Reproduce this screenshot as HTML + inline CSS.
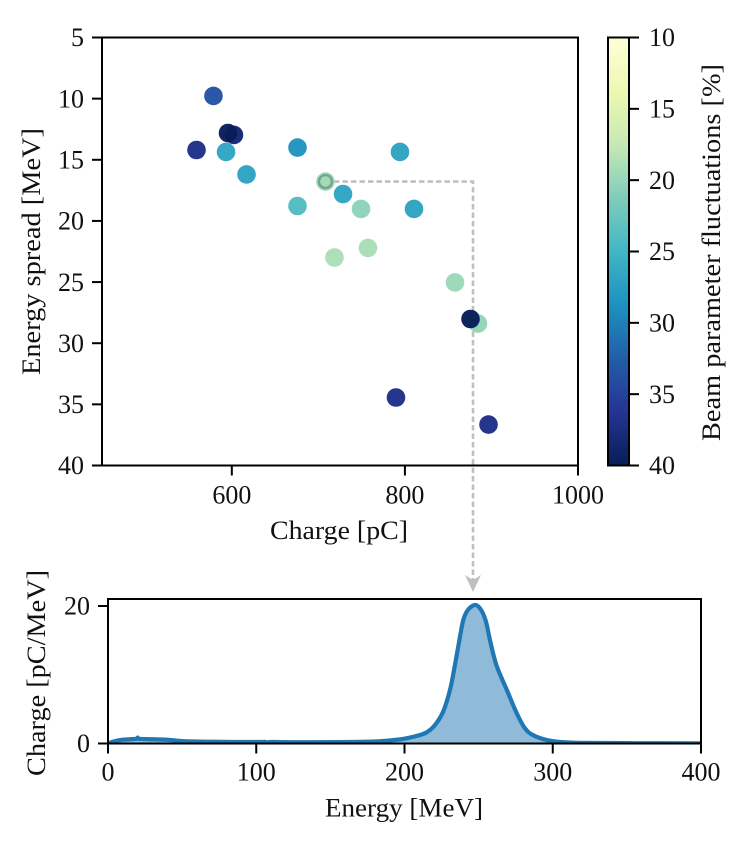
<!DOCTYPE html>
<html>
<head>
<meta charset="utf-8">
<title>Charge vs energy spread</title>
<style>
html,body{margin:0;padding:0;background:#fff;}
svg{display:block;}
text{font-family:"Liberation Serif",serif;font-size:26px;fill:#111;}
</style>
</head>
<body>
<svg id="chart" xmlns="http://www.w3.org/2000/svg" width="747" height="851" viewBox="0 0 747 851">
<defs>
<linearGradient id="ylgnbu" x1="0" y1="0" x2="0" y2="1">
<stop offset="0" stop-color="#ffffd9"/><stop offset="0.125" stop-color="#edf8b1"/><stop offset="0.25" stop-color="#c7e9b4"/><stop offset="0.375" stop-color="#7fcdbb"/><stop offset="0.5" stop-color="#41b6c4"/><stop offset="0.625" stop-color="#1d91c0"/><stop offset="0.75" stop-color="#225ea8"/><stop offset="0.875" stop-color="#253494"/><stop offset="1" stop-color="#081d58"/>
</linearGradient>
<clipPath id="spectrum-clip"><rect x="108" y="599" width="593" height="144.5"/></clipPath>
</defs>
<rect width="747" height="851" fill="#fff"/>
<g id="guide"></g>
<g id="scatter-points"></g>
<g id="spectrum" clip-path="url(#spectrum-clip)"></g>
<rect x="608" y="37.5" width="21" height="428" fill="url(#ylgnbu)"/>
<g id="ticks"></g>
<rect x="102" y="37.5" width="476" height="428" fill="none" stroke="#000" stroke-width="2"/>
<rect x="608" y="37.5" width="21" height="428" fill="none" stroke="#000" stroke-width="2"/>
<rect x="108" y="599" width="593" height="144.5" fill="none" stroke="#000" stroke-width="2"/>
<text x="270" y="539" textLength="138" lengthAdjust="spacingAndGlyphs">Charge [pC]</text>
<text transform="translate(40,375) rotate(-90)" textLength="247" lengthAdjust="spacingAndGlyphs">Energy spread [MeV]</text>
<text transform="translate(720,441) rotate(-90)" textLength="377" lengthAdjust="spacingAndGlyphs">Beam parameter fluctuations [%]</text>
<text x="325" y="816.7" textLength="158" lengthAdjust="spacingAndGlyphs">Energy [MeV]</text>
<text transform="translate(45,776) rotate(-90)" textLength="206" lengthAdjust="spacingAndGlyphs">Charge [pC/MeV]</text>
</svg>
<script>
const charge = [578.8,602.5,595.6,559.2,593.3,617,675.9,675.9,728.5,749.3,794.3,810.5,718.6,757.3,857.9,884.4,875.8,789.7,896.6];
const energySpread = [9.78,12.97,12.81,14.2,14.36,16.2,14,18.78,17.8,19.02,14.36,19.02,22.99,22.21,25.03,28.39,28.02,34.44,36.65];
const fluctuations = [33.5,38.5,40,37,26.8,27,28.5,24,26.8,20.5,27,27,19,19.1,19.8,20.2,40,37,37];
const selectedCharge = 708.2;
const selectedSpread = 16.78;
const selectedFluctuation = 19.5;
const spectrumEnergy = [0,4,10,19,20,21,30,40,50,70,100,106,108,110,130,150,180,197,208,215,220.6,226,230.7,234,237.4,239.7,243,248,252,255,257.7,262,269,275.7,281.3,286.9,296,305,318,350,400];
const spectrumCharge = [0,0.3,0.55,0.68,0.85,0.68,0.62,0.55,0.35,0.25,0.22,0.24,0.08,0.22,0.18,0.2,0.3,0.6,1.09,1.63,2.7,4.6,7.8,11.4,15.5,18,19.5,20.15,19.3,17.7,15,11.4,7.8,4.4,2.2,1.2,0.5,0.22,0.1,0.05,0.03];
const scatterXTicks = [600,800,1000];
const scatterYTicks = [5,10,15,20,25,30,35,40];
const colorbarTicks = [10,15,20,25,30,35,40];
const spectrumXTicks = [0,100,200,300,400];
const spectrumYTicks = [0,20];
const colormap = ['#ffffd9','#edf8b1','#c7e9b4','#7fcdbb','#41b6c4','#1d91c0','#225ea8','#253494','#081d58'];

const NS = 'http://www.w3.org/2000/svg';
function linear(d0, d1, r0, r1) { return v => r0 + (v - d0) / (d1 - d0) * (r1 - r0); }
const sx = linear(450, 1000, 102, 578);
const sy = linear(5, 40, 37.5, 465.5);
const cy = linear(10, 40, 37.5, 465.5);
const ex = linear(0, 400, 108, 701);
const ey = linear(0, 20, 743.5, 606);

function hexToRgb(h) { return [1, 3, 5].map(i => parseInt(h.substr(i, 2), 16)); }
function colorFor(v) {
  const t = Math.min(1, Math.max(0, (v - 10) / 30)) * (colormap.length - 1);
  const i = Math.min(colormap.length - 2, Math.floor(t));
  const a = hexToRgb(colormap[i]), b = hexToRgb(colormap[i + 1]), f = t - i;
  return 'rgb(' + a.map((c, k) => Math.round(c + (b[k] - c) * f)).join(',') + ')';
}
function make(tag, attrs, parent) {
  const el = document.createElementNS(NS, tag);
  for (const k in attrs) el.setAttribute(k, attrs[k]);
  parent.appendChild(el);
  return el;
}

const pointsLayer = document.getElementById('scatter-points');
charge.forEach((c, i) => {
  const dot = make('circle', {cx: sx(c), cy: sy(energySpread[i]), r: 9.3, fill: colorFor(fluctuations[i]), 'fill-opacity': 0.97}, pointsLayer);
  
  
});
const selectedDot = make('circle', {cx: sx(selectedCharge), cy: sy(selectedSpread), r: 9.3, fill: colorFor(selectedFluctuation)}, pointsLayer);


const selectedRing = make('circle', {cx: sx(selectedCharge), cy: sy(selectedSpread), r: 6.5, fill: 'none', stroke: '#76a38d', 'stroke-width': 2.4}, pointsLayer);



const guide = document.getElementById('guide');
const guideX = 473;
const guideLine = make('path', {d: 'M' + sx(selectedCharge) + ' ' + sy(selectedSpread) + 'H' + guideX + 'V581', fill: 'none', stroke: '#c0c0c0', 'stroke-width': 2.6, 'stroke-dasharray': '5.5 3'}, guide);


const arrow = make('path', {d: 'M' + (guideX - 8) + ' 575L' + guideX + ' 580L' + (guideX + 8) + ' 575L' + guideX + ' 592Z', fill: '#bfbfbf'}, guide);



function smoothPath() {
  const p = spectrumEnergy.map((e, i) => [ex(e), ey(spectrumCharge[i])]);
  let d = 'M' + p[0][0] + ' ' + p[0][1];
  for (let i = 0; i < p.length - 1; i++) {
    const a = p[Math.max(0, i - 1)], b = p[i], c = p[i + 1], e = p[Math.min(p.length - 1, i + 2)];
    d += 'C' + (b[0] + (c[0] - a[0]) / 6) + ' ' + (b[1] + (c[1] - a[1]) / 6) + ' ' + (c[0] - (e[0] - b[0]) / 6) + ' ' + (c[1] - (e[1] - b[1]) / 6) + ' ' + c[0] + ' ' + c[1];
  }
  return d;
}
const spectrumLayer = document.getElementById('spectrum');
const curve = smoothPath();
const lastE = spectrumEnergy[spectrumEnergy.length - 1];
const area = make('path', {d: curve + 'L' + ex(lastE) + ' ' + ey(0) + 'L' + ex(spectrumEnergy[0]) + ' ' + ey(0) + 'Z', fill: '#1f77b4', 'fill-opacity': 0.5}, spectrumLayer);


const line = make('path', {d: curve, fill: 'none', stroke: '#1f77b4', 'stroke-width': 4.2, 'stroke-linejoin': 'round'}, spectrumLayer);



const tickLayer = document.getElementById('ticks');
function addTick(x1, y1, x2, y2, label, tx, ty, anchor, name) {
  const t = make('line', {x1: x1, y1: y1, x2: x2, y2: y2, stroke: '#000', 'stroke-width': 2}, tickLayer);
  
  
  const l = make('text', {x: tx, y: ty, 'text-anchor': anchor}, tickLayer);
  l.textContent = label;
  
  
}
scatterXTicks.forEach(v => addTick(sx(v), 465.5, sx(v), 475.5, v, sx(v), 503.5, 'middle', 'scatter-x'));
scatterYTicks.forEach(v => addTick(92, sy(v), 102, sy(v), v, 84, sy(v) + 8.7, 'end', 'scatter-y'));
colorbarTicks.forEach(v => addTick(629, cy(v), 639, cy(v), v, 649, cy(v) + 8.7, 'start', 'colorbar'));
spectrumXTicks.forEach(v => addTick(ex(v), 743.5, ex(v), 753.5, v, ex(v), 780.5, 'middle', 'spectrum-x'));
spectrumYTicks.forEach(v => addTick(98, ey(v), 108, ey(v), v, 90, ey(v) + 8.7, 'end', 'spectrum-y'));
</script>
</body>
</html>
